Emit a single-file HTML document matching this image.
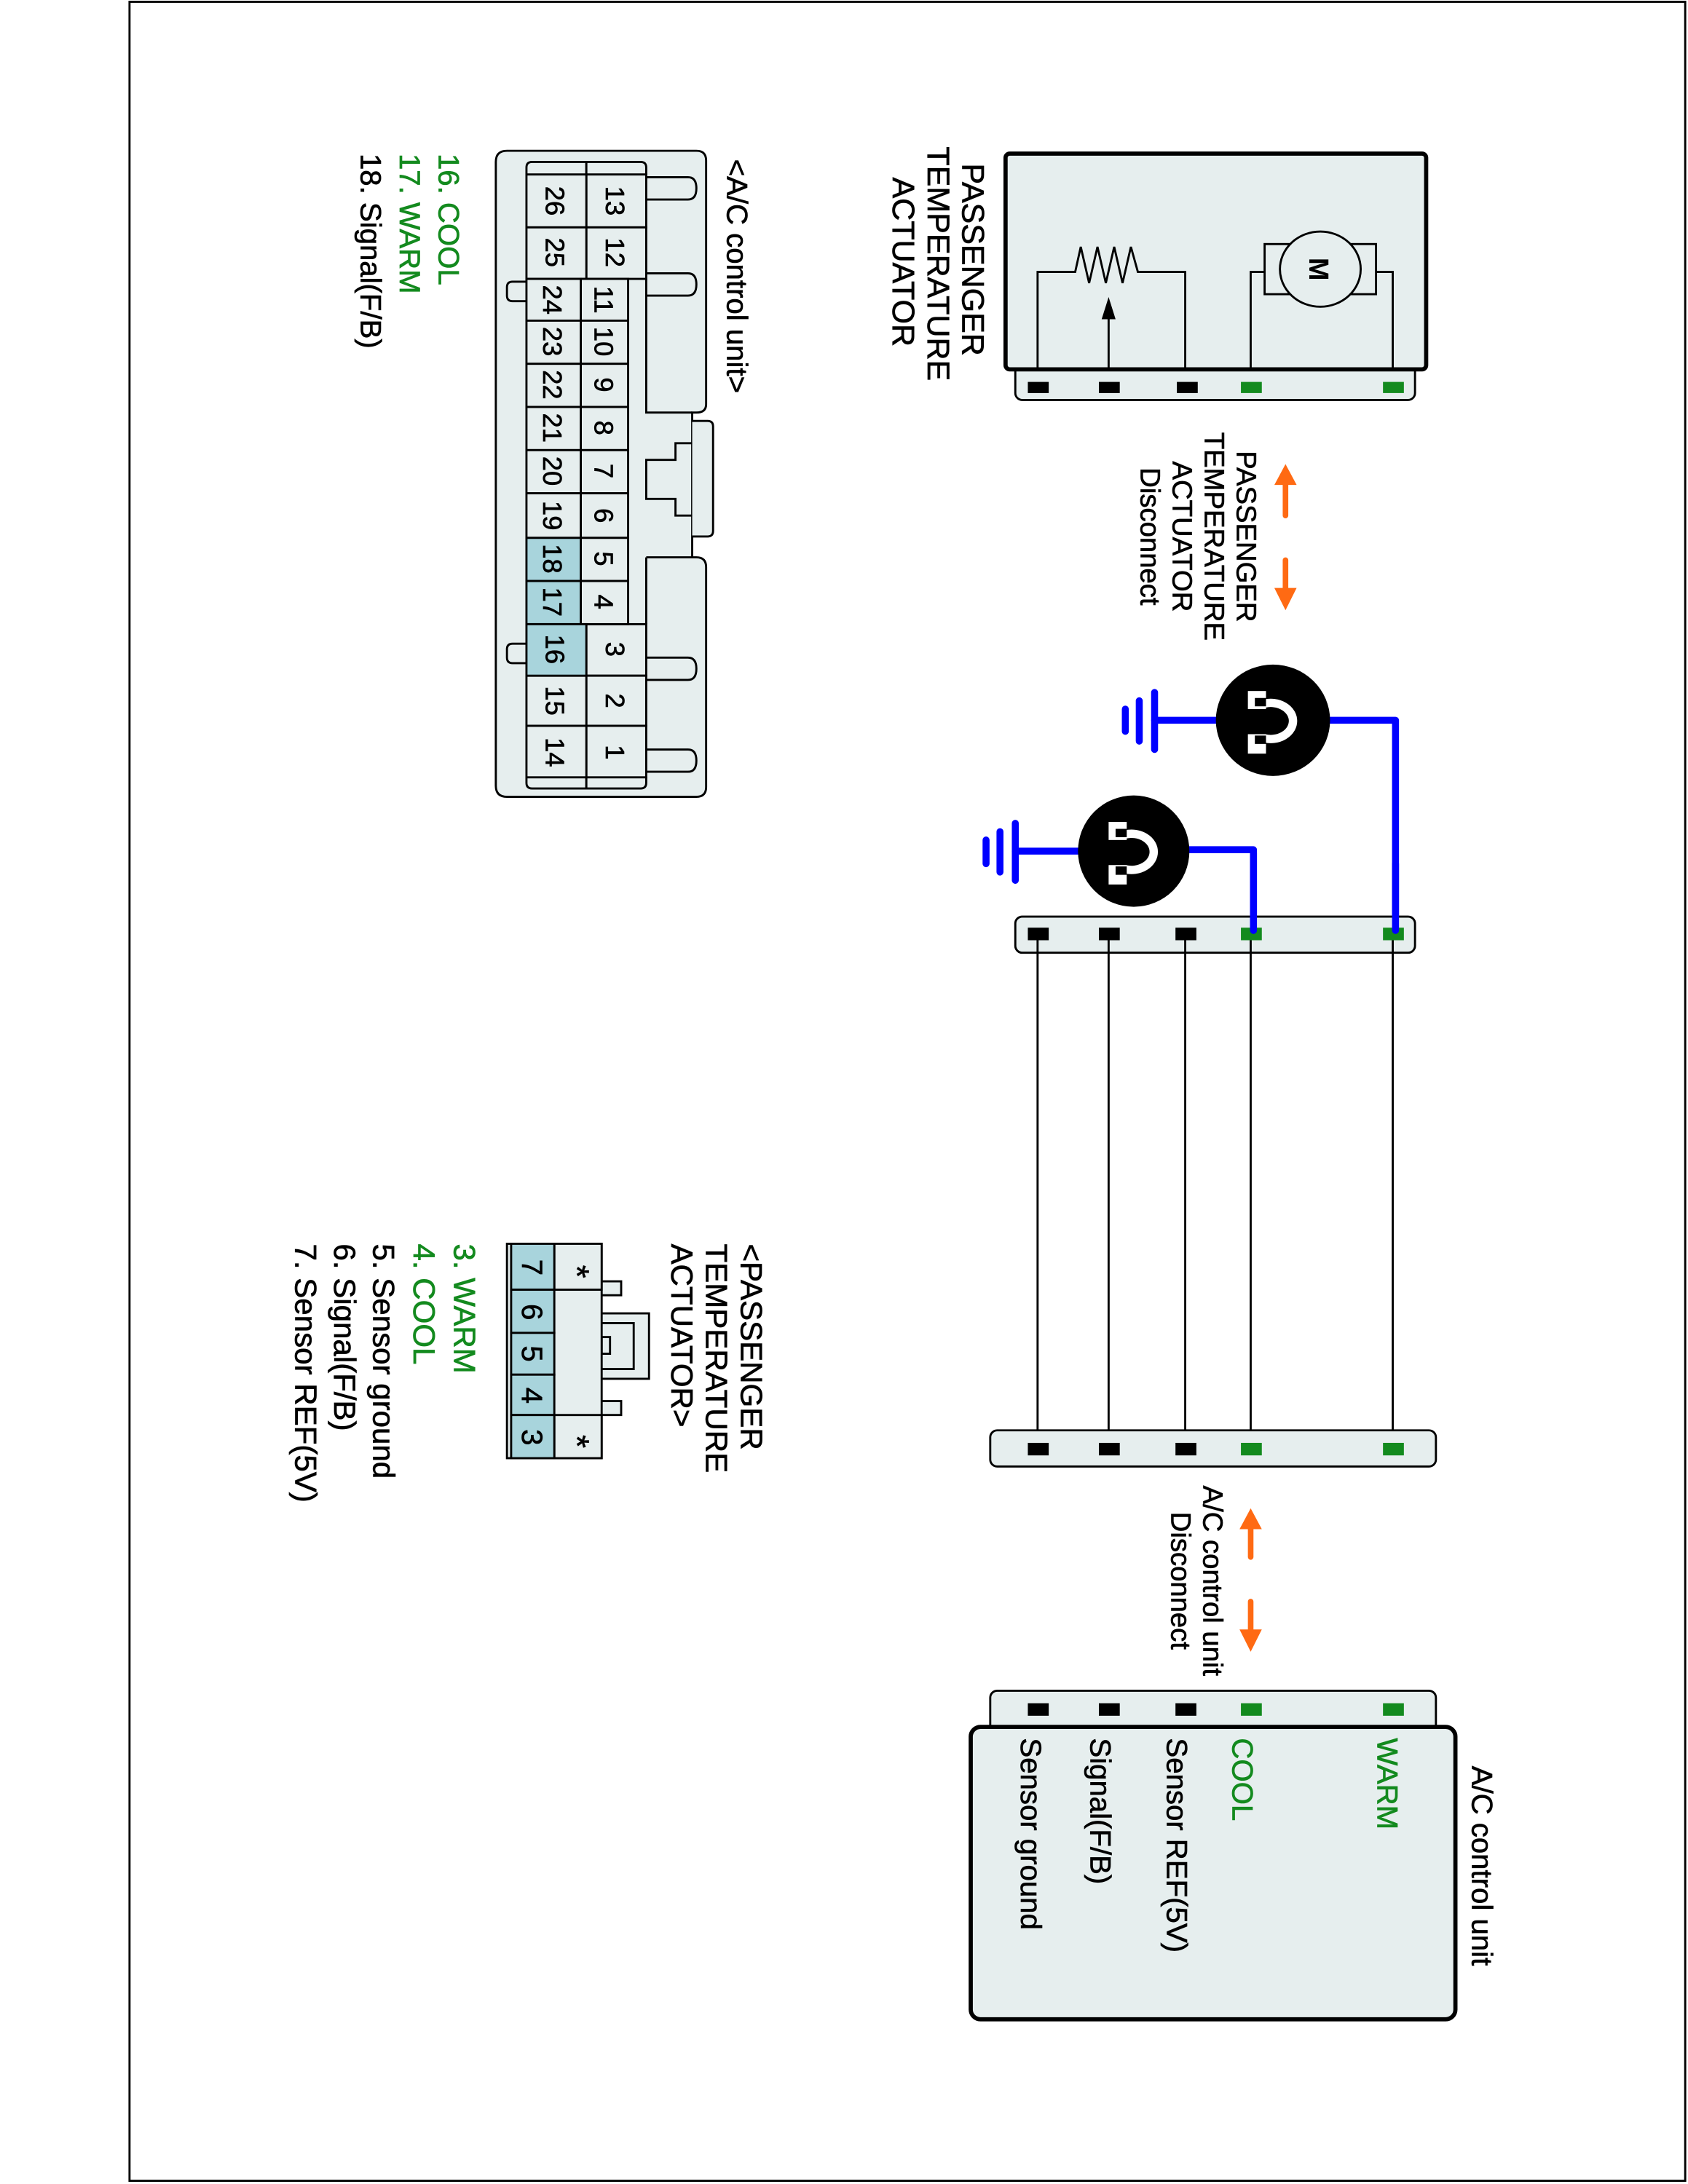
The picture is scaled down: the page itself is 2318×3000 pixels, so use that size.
<!DOCTYPE html>
<html><head><meta charset="utf-8"><style>
html,body{margin:0;padding:0;background:#fff}
svg{display:block}
text{font-family:"Liberation Sans",Arial,sans-serif;stroke-width:0.35}
</style></head><body>
<svg xmlns="http://www.w3.org/2000/svg" width="2318" height="3000" viewBox="0 0 1212 1568">
<rect x="0" y="0" width="1212" height="1568" fill="#fff"/>
<rect x="93" y="1" width="1117" height="1565" fill="none" stroke="#000" stroke-width="1.5"/>

<!-- ===== Actuator box ===== -->
<rect x="729" y="258" width="287" height="29" rx="5" fill="#e6eeee" stroke="#000" stroke-width="1.5"/>
<rect x="722" y="110" width="302" height="155" rx="3" fill="#e6eeee" stroke="#000" stroke-width="3"/>
<g fill="#000">
<rect x="738" y="274" width="15" height="8"/><rect x="789" y="274" width="15" height="8"/><rect x="845" y="274" width="15" height="8"/>
</g>
<g fill="#138a1e"><rect x="891" y="274" width="15" height="8"/><rect x="993" y="274" width="15" height="8"/></g>
<polyline points="745,264 745,195 772,195 776,177 782,203 788,177 794,203 800,177 806,203 812,177 817,195 851,195 851,264" fill="none" stroke="#000" stroke-width="1.5"/>
<line x1="796" y1="264" x2="796" y2="226" stroke="#000" stroke-width="1.5"/>
<polygon points="791,229 801,229 796,213" fill="#000"/>
<polyline points="898,264 898,195 908,195" fill="none" stroke="#000" stroke-width="1.5"/>
<polyline points="1000,264 1000,195 988,195" fill="none" stroke="#000" stroke-width="1.5"/>
<rect x="908" y="175" width="80" height="36" fill="#e6eeee" stroke="#000" stroke-width="1.5"/>
<ellipse cx="948" cy="193" rx="29" ry="27" fill="#e6eeee" stroke="#000" stroke-width="1.5"/>
<text transform="translate(940,193) rotate(90)" font-size="20" font-weight="bold" text-anchor="middle">M</text>
<g font-size="22.5" stroke="#000">
<text transform="translate(691,117) rotate(90)">PASSENGER</text>
<text transform="translate(666,105) rotate(90)">TEMPERATURE</text>
<text transform="translate(641,127) rotate(90)">ACTUATOR</text>
</g>

<!-- disconnect 1 -->
<g stroke="#ff6a13" stroke-width="4" stroke-linecap="round">
<line x1="923" y1="370" x2="923" y2="345"/><line x1="923" y1="402" x2="923" y2="425"/>
</g>
<g fill="#ff6a13"><polygon points="915,348 931,348 923,333"/><polygon points="915,422 931,422 923,438"/></g>
<g font-size="20" text-anchor="middle" stroke="#000">
<text transform="translate(888,385) rotate(90)">PASSENGER</text>
<text transform="translate(865,385) rotate(90)">TEMPERATURE</text>
<text transform="translate(842,385) rotate(90)">ACTUATOR</text>
<text transform="translate(819,385) rotate(90)">Disconnect</text>
</g>

<!-- lamps/grounds -->
<g stroke="#0000ff" stroke-width="5" fill="none" stroke-linecap="round" stroke-linejoin="round">
<polyline points="1002,668 1002,517 950,517"/>
<line x1="876" y1="517" x2="829" y2="517"/>
<polyline points="900,668 900,610 852,610"/>
<line x1="776" y1="611" x2="729" y2="611"/>
<line x1="829" y1="497" x2="829" y2="538"/>
<line x1="818" y1="503" x2="818" y2="532"/>
<line x1="808" y1="509" x2="808" y2="525"/>
<line x1="729" y1="591" x2="729" y2="632"/>
<line x1="718" y1="597" x2="718" y2="626"/>
<line x1="708" y1="603" x2="708" y2="620"/>
</g>
<ellipse cx="914" cy="517" rx="41" ry="40" fill="#000"/>
<ellipse cx="814" cy="611" rx="40" ry="40" fill="#000"/>
<g fill="none" stroke="#fff" stroke-width="6">
<path d="M908,505 A16,13 0 1 1 908,530"/>
<path d="M808,599 A16,13 0 1 1 808,624"/>
</g>
<g fill="#fff">
<rect x="896" y="496" width="13" height="13"/><rect x="896" y="527" width="13" height="14"/>
<rect x="796" y="590" width="13" height="13"/><rect x="796" y="621" width="13" height="14"/>
</g>
<g fill="#000">
<rect x="901" y="501" width="8" height="6"/><rect x="901" y="528" width="8" height="6"/>
<rect x="801" y="595" width="8" height="6"/><rect x="801" y="622" width="8" height="6"/>
</g>

<!-- middle connector 1 -->
<rect x="729" y="658" width="287" height="26" rx="5" fill="#e6eeee" stroke="#000" stroke-width="1.5"/>
<g stroke="#000" stroke-width="1.5">
<line x1="745" y1="670" x2="745" y2="1040"/><line x1="796" y1="670" x2="796" y2="1040"/>
<line x1="851" y1="670" x2="851" y2="1040"/><line x1="898" y1="670" x2="898" y2="1040"/>
<line x1="1000" y1="670" x2="1000" y2="1040"/>
</g>
<g fill="#000"><rect x="738" y="666" width="15" height="9"/><rect x="789" y="666" width="15" height="9"/><rect x="844" y="666" width="15" height="9"/></g>
<g fill="#138a1e"><rect x="891" y="666" width="15" height="9"/><rect x="993" y="666" width="15" height="9"/></g>
<path d="M900,668 L900,612" stroke="#0000ff" stroke-width="5" stroke-linecap="round"/>
<path d="M1002,668 L1002,620" stroke="#0000ff" stroke-width="5" stroke-linecap="round"/>

<!-- connector 2 -->
<rect x="711" y="1027" width="320" height="26" rx="5" fill="#e6eeee" stroke="#000" stroke-width="1.5"/>
<g fill="#000"><rect x="738" y="1036" width="15" height="9"/><rect x="789" y="1036" width="15" height="9"/><rect x="844" y="1036" width="15" height="9"/></g>
<g fill="#138a1e"><rect x="891" y="1036" width="15" height="9"/><rect x="993" y="1036" width="15" height="9"/></g>

<!-- disconnect 2 -->
<g stroke="#ff6a13" stroke-width="4" stroke-linecap="round">
<line x1="898" y1="1118" x2="898" y2="1096"/><line x1="898" y1="1150" x2="898" y2="1172"/>
</g>
<g fill="#ff6a13"><polygon points="890,1098 906,1098 898,1083"/><polygon points="890,1170 906,1170 898,1186"/></g>
<g font-size="20" text-anchor="middle" stroke="#000">
<text transform="translate(864,1135) rotate(90)">A/C control unit</text>
<text transform="translate(841,1135) rotate(90)">Disconnect</text>
</g>

<!-- A/C control unit -->
<rect x="711" y="1214" width="320" height="30" rx="5" fill="#e6eeee" stroke="#000" stroke-width="1.5"/>
<g fill="#000"><rect x="738" y="1223" width="15" height="9"/><rect x="789" y="1223" width="15" height="9"/><rect x="844" y="1223" width="15" height="9"/></g>
<g fill="#138a1e"><rect x="891" y="1223" width="15" height="9"/><rect x="993" y="1223" width="15" height="9"/></g>
<rect x="697" y="1240" width="348" height="210" rx="7" fill="#e6eeee" stroke="#000" stroke-width="3"/>
<g font-size="21">
<text transform="translate(989,1248) rotate(90)" fill="#138a1e" stroke="#138a1e">WARM</text>
<text transform="translate(885,1248) rotate(90)" fill="#138a1e" stroke="#138a1e">COOL</text>
<text transform="translate(838,1248) rotate(90)" stroke="#000">Sensor REF(5V)</text>
<text transform="translate(783,1248) rotate(90)" stroke="#000">Signal(F/B)</text>
<text transform="translate(733,1248) rotate(90)" stroke="#000">Sensor ground</text>
<text transform="translate(1057,1268) rotate(90)" stroke="#000">A/C control unit</text>
</g>

<!-- ===== 26-pin connector ===== -->
<g stroke="#000" stroke-width="1.5" fill="#e6eeee">
<path d="M364,108 L500,108 Q507,108 507,115 L507,290 Q507,296 500,296 L497,296 L497,400 L500,400 Q507,400 507,407 L507,565 Q507,572 500,572 L364,572 Q356,572 356,564 L356,116 Q356,108 364,108 Z"/>
<path d="M497,302 L508,302 Q512,302 512,306 L512,381 Q512,385 508,385 L497,385"/>
<path d="M464,127 L494,127 Q500,127 500,135 Q500,143 494,143 L464,143"/>
<path d="M464,196 L494,196 Q500,196 500,204 Q500,212 494,212 L464,212"/>
<path d="M464,472 L494,472 Q500,472 500,480 Q500,488 494,488 L464,488"/>
<path d="M464,538 L494,538 Q500,538 500,546 Q500,554 494,554 L464,554"/>
<path d="M378,202 L368,202 Q364,202 364,206 L364,212 Q364,216 368,216 L378,216"/>
<path d="M378,462 L368,462 Q364,462 364,466 L364,472 Q364,476 368,476 L378,476"/>
<path d="M378,125 L378,120 Q378,116 382,116 L421,116 L421,125"/>
<path d="M421,125 L421,116 L460,116 Q464,116 464,120 L464,125"/>
<path d="M378,558 L378,562 Q378,566 382,566 L421,566 L421,558"/>
<path d="M421,558 L421,566 L460,566 Q464,566 464,562 L464,558"/>
</g>
<g stroke="#000" stroke-width="1.5" fill="none">
<polyline points="464,200 464,296 497,296"/>
<polyline points="464,400 497,400"/>
<polyline points="464,400 464,448"/>
<polyline points="497,318 485,318 485,330 464,330 464,358 485,358 485,370 497,370"/>
</g>
<g stroke="#000" stroke-width="1.5" fill="#e6eeee">
<rect x="421" y="125" width="43" height="38"/><rect x="421" y="163" width="43" height="37"/>
<rect x="421" y="448" width="43" height="37"/><rect x="421" y="485" width="43" height="36"/><rect x="421" y="521" width="43" height="37"/>
<rect x="378" y="125" width="43" height="38"/><rect x="378" y="163" width="43" height="37"/>
<rect x="378" y="485" width="43" height="36"/><rect x="378" y="521" width="43" height="37"/>
<rect x="417" y="200" width="34" height="30"/><rect x="417" y="230" width="34" height="31"/><rect x="417" y="261" width="34" height="31"/>
<rect x="417" y="292" width="34" height="31"/><rect x="417" y="323" width="34" height="31"/><rect x="417" y="354" width="34" height="32"/>
<rect x="417" y="386" width="34" height="31"/><rect x="417" y="417" width="34" height="31"/>
<rect x="378" y="200" width="39" height="30"/><rect x="378" y="230" width="39" height="31"/><rect x="378" y="261" width="39" height="31"/>
<rect x="378" y="292" width="39" height="31"/><rect x="378" y="323" width="39" height="31"/><rect x="378" y="354" width="39" height="32"/>
<rect x="378" y="386" width="39" height="31" fill="#a8d4dc"/><rect x="378" y="417" width="39" height="31" fill="#a8d4dc"/>
<rect x="378" y="448" width="43" height="37" fill="#a8d4dc"/>
</g>
<g font-size="19" text-anchor="middle" stroke="#000">
<text transform="translate(435,144) rotate(90)">13</text>
<text transform="translate(435,181) rotate(90)">12</text>
<text transform="translate(427,215) rotate(90)">11</text>
<text transform="translate(427,245) rotate(90)">10</text>
<text transform="translate(427,276) rotate(90)">9</text>
<text transform="translate(427,307) rotate(90)">8</text>
<text transform="translate(427,338) rotate(90)">7</text>
<text transform="translate(427,370) rotate(90)">6</text>
<text transform="translate(427,401) rotate(90)">5</text>
<text transform="translate(427,432) rotate(90)">4</text>
<text transform="translate(435,466) rotate(90)">3</text>
<text transform="translate(435,503) rotate(90)">2</text>
<text transform="translate(435,540) rotate(90)">1</text>
<text transform="translate(392,144) rotate(90)">26</text>
<text transform="translate(392,181) rotate(90)">25</text>
<text transform="translate(390,215) rotate(90)">24</text>
<text transform="translate(390,245) rotate(90)">23</text>
<text transform="translate(390,276) rotate(90)">22</text>
<text transform="translate(390,307) rotate(90)">21</text>
<text transform="translate(390,338) rotate(90)">20</text>
<text transform="translate(390,370) rotate(90)">19</text>
<text transform="translate(390,401) rotate(90)">18</text>
<text transform="translate(390,432) rotate(90)">17</text>
<text transform="translate(392,466) rotate(90)">16</text>
<text transform="translate(392,503) rotate(90)">15</text>
<text transform="translate(392,540) rotate(90)">14</text>
</g>
<g font-size="21">
<text transform="translate(522,114) rotate(90)" stroke="#000">&lt;A/C control unit&gt;</text>
<text transform="translate(315,110) rotate(90)" fill="#138a1e" stroke="#138a1e">16. COOL</text>
<text transform="translate(287,110) rotate(90)" fill="#138a1e" stroke="#138a1e">17. WARM</text>
<text transform="translate(259,110) rotate(90)" stroke="#000">18. Signal(F/B)</text>
</g>

<!-- ===== small actuator connector ===== -->
<g stroke="#000" stroke-width="1.5" fill="#e6eeee">
<path d="M432,920 L446,920 L446,930 L432,930"/>
<path d="M432,1006 L446,1006 L446,1016 L432,1016"/>
<path d="M432,943 L466,943 L466,990 L432,990"/>
<path d="M432,950 L455,950 L455,983 L432,983"/>
<rect x="432" y="960" width="6" height="12"/>
<rect x="364" y="893" width="68" height="154"/>
<rect x="398" y="893" width="34" height="33"/>
<rect x="398" y="1016" width="34" height="31"/>
<rect x="367" y="893" width="31" height="33" fill="#a8d4dc"/>
<rect x="367" y="926" width="31" height="31" fill="#a8d4dc"/>
<rect x="367" y="957" width="31" height="30" fill="#a8d4dc"/>
<rect x="367" y="987" width="31" height="29" fill="#a8d4dc"/>
<rect x="367" y="1016" width="31" height="31" fill="#a8d4dc"/>
</g>
<g font-size="21" text-anchor="middle" stroke="#000">
<text transform="translate(375,910) rotate(90)">7</text>
<text transform="translate(375,942) rotate(90)">6</text>
<text transform="translate(375,972) rotate(90)">5</text>
<text transform="translate(375,1002) rotate(90)">4</text>
<text transform="translate(375,1032) rotate(90)">3</text>
<text transform="translate(406,913) rotate(90)" font-size="24">*</text>
<text transform="translate(406,1035) rotate(90)" font-size="24">*</text>
</g>
<g font-size="22">
<text transform="translate(532,893) rotate(90)" stroke="#000">&lt;PASSENGER</text>
<text transform="translate(507,893) rotate(90)" stroke="#000">TEMPERATURE</text>
<text transform="translate(482,893) rotate(90)" stroke="#000">ACTUATOR&gt;</text>
<text transform="translate(326,893) rotate(90)" fill="#138a1e" stroke="#138a1e">3. WARM</text>
<text transform="translate(297,893) rotate(90)" fill="#138a1e" stroke="#138a1e">4. COOL</text>
<text transform="translate(268,893) rotate(90)" stroke="#000">5. Sensor ground</text>
<text transform="translate(240,893) rotate(90)" stroke="#000">6. Signal(F/B)</text>
<text transform="translate(212,893) rotate(90)" stroke="#000">7. Sensor REF(5V)</text>
</g>
</svg>
</body></html>
